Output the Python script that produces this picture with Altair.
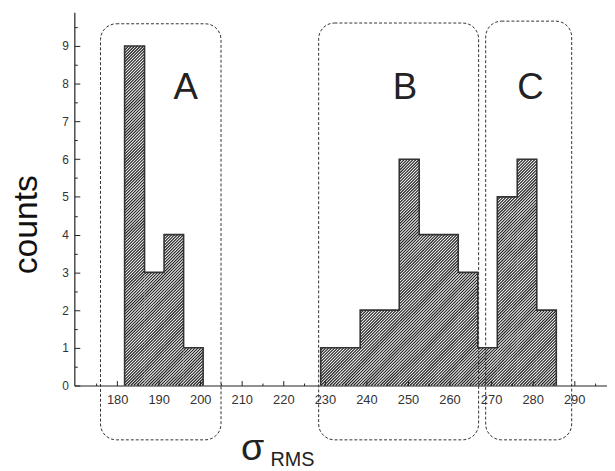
import math
import altair as alt
import pandas as pd

# ---------------- data ----------------
bin_lo = [181.8, 186.6, 191.3, 196.0, 229.0, 233.8, 238.5, 243.2,
          247.9, 252.7, 257.4, 262.1, 266.8, 271.5, 276.3, 281.0]
bin_hi = [186.6, 191.3, 196.0, 200.7, 233.8, 238.5, 243.2, 247.9,
          252.7, 257.4, 262.1, 266.8, 271.5, 276.3, 281.0, 285.7]
counts = [9, 3, 4, 1, 1, 1, 2, 2, 6, 4, 4, 3, 1, 5, 6, 2]

group_names = ["A", "B", "C"]
group_lo = [176.0, 228.5, 268.7]
group_hi = [205.0, 267.0, 289.4]
group_top = [9.59, 9.61, 9.66]
group_bottom = [-1.44, -1.44, -1.44]
group_label_x = [196.5, 249.3, 279.5]
group_label_y = [7.6, 7.6, 7.6]

x_label_values = [180, 190, 200, 210, 220, 230, 240, 250, 260, 270, 280, 290]
x_tick_values = [175, 180, 185, 190, 195, 200, 205, 210, 215, 220, 225, 230, 235,
                 240, 245, 250, 255, 260, 265, 270, 275, 280, 285, 290, 295]
y_label_values = [0, 1, 2, 3, 4, 5, 6, 7, 8, 9]
y_tick_values = [0, 0.5, 1, 1.5, 2, 2.5, 3, 3.5, 4, 4.5, 5, 5.5, 6, 6.5, 7, 7.5,
                 8, 8.5, 9, 9.5]

x_title_parts = ["σ", "RMS"]
y_title = "counts"

# ---------------- layout ----------------
XMIN, XMAX = 169.7, 297.9
YMIN, YMAX = 0.0, 9.895
W, H = 538, 377
FONT = "Liberation Sans"
INK = "#222222"

sx = W / (XMAX - XMIN)
sy = H / (YMAX - YMIN)

xscale = alt.Scale(domain=[XMIN, XMAX], nice=False, zero=False)
yscale = alt.Scale(domain=[YMIN, YMAX], nice=False, zero=False)

# ---------------- hatch segments derived from the bars ----------------
step = 3.0
hatch_rows = []
for lo, hi, c in zip(bin_lo, bin_hi, counts):
    X0 = (lo - XMIN) * sx
    X1 = (hi - XMIN) * sx
    Ht = c * sy
    k0 = math.ceil((X0 - Ht) / step)
    k1 = math.floor(X1 / step)
    for k in range(k0, k1 + 1):
        cc = k * step
        xa = max(X0, cc)
        xb = min(X1, cc + Ht)
        if xb - xa <= 0.05:
            continue
        hatch_rows.append({
            "x": XMIN + xa / sx, "y": (xa - cc) / sy,
            "x2": XMIN + xb / sx, "y2": (xb - cc) / sy,
        })
hatch_df = pd.DataFrame(hatch_rows)

# ---------------- outline path of the histogram ----------------
outline_rows = []
g = 0
order = 0
for i, (lo, hi, c) in enumerate(zip(bin_lo, bin_hi, counts)):
    new_group = i == 0 or abs(lo - bin_hi[i - 1]) > 0.05
    if new_group:
        if i > 0:
            outline_rows.append({"x": bin_hi[i - 1], "y": 0, "g": g, "o": order}); order += 1
            g += 1
        outline_rows.append({"x": lo, "y": 0, "g": g, "o": order}); order += 1
    outline_rows.append({"x": lo, "y": c, "g": g, "o": order}); order += 1
    outline_rows.append({"x": hi, "y": c, "g": g, "o": order}); order += 1
outline_rows.append({"x": bin_hi[-1], "y": 0, "g": g, "o": order})
outline_df = pd.DataFrame(outline_rows)

boxes_df = pd.DataFrame({"name": group_names, "lo": group_lo, "hi": group_hi,
                         "top": group_top, "bottom": group_bottom,
                         "lx": group_label_x, "ly": group_label_y})

title_df = pd.DataFrame({"t": x_title_parts, "x": [209.8, 216.9],
                         "y": [-1.97, -2.14], "fs": [38, 20]})

# ---------------- layers ----------------
hatch = alt.Chart(hatch_df).mark_rule(color="#1e1e1e", strokeWidth=1.15).encode(
    x=alt.X("x:Q", scale=xscale, title=None,
            axis=alt.Axis(orient="top", offset=-H, labels=False, domain=False,
                          grid=False, values=x_tick_values, tickColor=INK,
                          tickWidth=1,
                          tickSize={"condition": {"test": "datum.value % 10 === 0", "value": 5},
                                    "value": 2.5})),
    x2="x2:Q",
    y=alt.Y("y:Q", scale=yscale, title=None,
            axis=alt.Axis(orient="right", offset=-W, labels=False, domain=False,
                          grid=False, values=y_tick_values, tickColor=INK,
                          tickWidth=1,
                          tickSize={"condition": {"test": "datum.value % 1 === 0", "value": 5.5},
                                    "value": 3})),
    y2="y2:Q",
)

outline = alt.Chart(outline_df).mark_line(color="#333333", strokeWidth=1.6).encode(
    x=alt.X("x:Q", scale=xscale, title=None,
            axis=alt.Axis(orient="bottom", ticks=False, grid=False, domainColor=INK,
                          domainWidth=1.2, values=x_label_values, labelFont=FONT,
                          labelFontSize=13, labelColor="#333333", labelPadding=8,
                          labelFlush=False)),
    y=alt.Y("y:Q", scale=yscale,
            axis=alt.Axis(orient="left", ticks=False, grid=False, domainColor=INK,
                          domainWidth=1.2, values=y_label_values, labelFont=FONT,
                          labelFontSize=12, labelColor="#333333", labelPadding=6,
                          labelFlush=False, title=y_title, titleFont=FONT,
                          titleFontSize=34, titleFontWeight="normal", titleColor="#111111",
                          titleAngle=270, titleAlign="center", titleBaseline="middle",
                          titleX=-48, titleY=214)),
    detail="g:N",
    order="o:Q",
)

boxes = alt.Chart(boxes_df).mark_rect(
    fillOpacity=0, stroke="#333333", strokeWidth=1, strokeDash=[3, 2], cornerRadius=16
).encode(
    x=alt.X("lo:Q", scale=xscale, axis=None),
    x2="hi:Q",
    y=alt.Y("top:Q", scale=yscale, axis=None),
    y2="bottom:Q",
)

letters = alt.Chart(boxes_df).mark_text(
    font=FONT, fontSize=37, color=INK, align="center", baseline="alphabetic"
).encode(
    x=alt.X("lx:Q", scale=xscale, axis=None),
    y=alt.Y("ly:Q", scale=yscale, axis=None),
    text="name:N",
)

xtitle = alt.Chart(title_df).mark_text(
    font=FONT, color=INK, align="left", baseline="alphabetic"
).encode(
    x=alt.X("x:Q", scale=xscale, axis=None),
    y=alt.Y("y:Q", scale=yscale, axis=None),
    text="t:N",
    size=alt.Size("fs:Q", scale=None, legend=None),
)

chart = alt.layer(hatch, outline, boxes, letters, xtitle).resolve_axis(
    x="independent", y="independent"
).properties(
    width=W, height=H,
    autosize=alt.AutoSizeParams(type="none"),
    padding={"left": 67, "top": 2, "right": 0, "bottom": 82},
    background="white",
).configure_view(stroke=None)

chart.save("out.html", embed_options={"renderer": "svg", "actions": False})
